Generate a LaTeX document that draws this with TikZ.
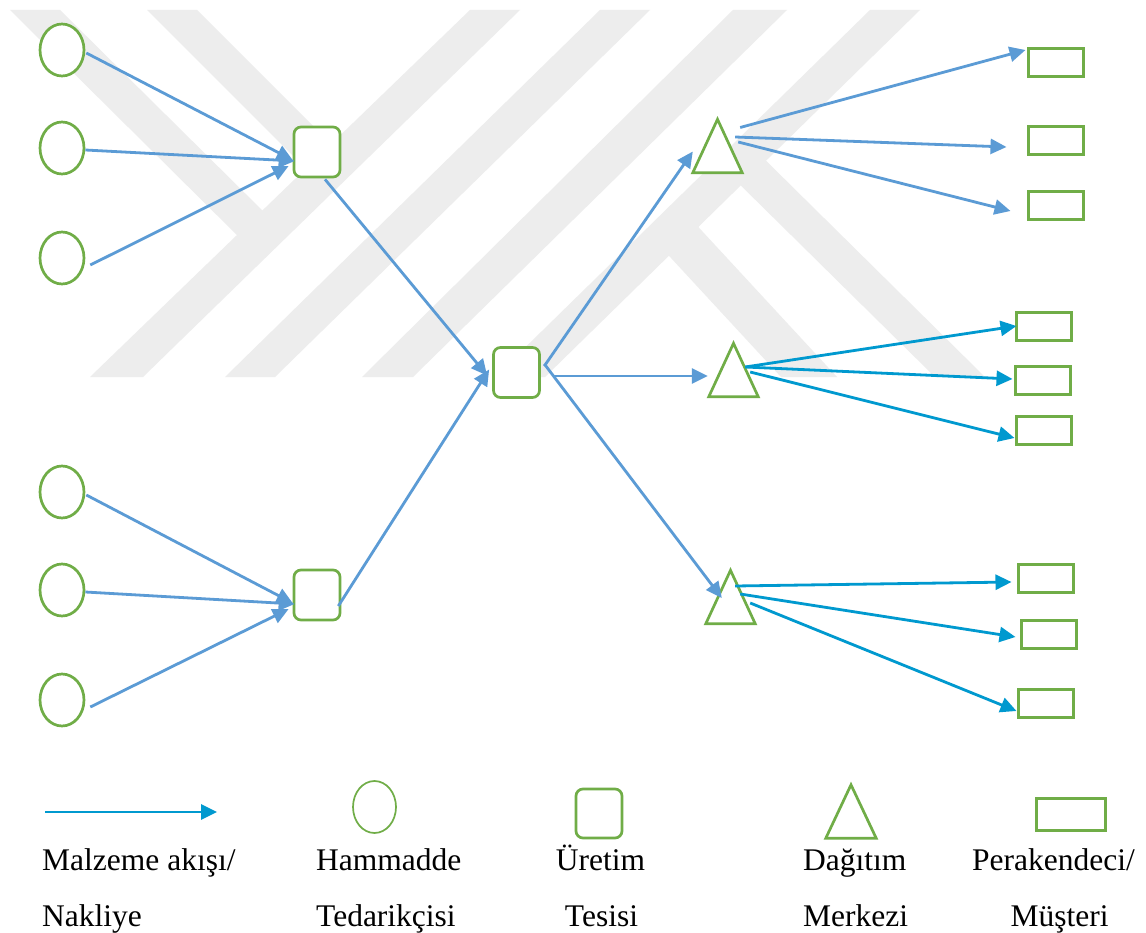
\documentclass[tikz,border=0pt]{standalone}
\usepackage{fontspec}
\setmainfont{Liberation Serif}
\usetikzlibrary{shapes.geometric,arrows.meta,calc}
\definecolor{flowblue}{HTML}{5B9BD5}
\definecolor{flowcyan}{HTML}{0099CF}
\definecolor{nodegreen}{HTML}{70AD47}
\definecolor{markgray}{HTML}{EDEDED}

\begin{document}
\begin{tikzpicture}[x=1pt,y=-1pt,
  supplier/.style={ellipse, draw=nodegreen, fill=white, line width=2.7pt,
    minimum width=44pt, minimum height=52pt, inner sep=0pt},
  plant/.style={rectangle, rounded corners=7pt, draw=nodegreen, fill=white,
    line width=2.7pt, minimum width=46pt, minimum height=50pt, inner sep=0pt},
  depotbox/.style={rectangle, minimum width=49pt, minimum height=53pt, inner sep=0pt},
  depot/.style={draw=nodegreen, fill=white, line width=2.7pt, line join=miter},
  retail/.style={rectangle, draw=nodegreen, fill=white, line width=3pt,
    minimum width=55pt, minimum height=28pt, inner sep=0pt},
  flow/.style={draw=flowblue, line width=2.8pt, -{Triangle[length=16pt,width=15pt]}},
  flowc/.style={draw=flowcyan, line width=2.8pt, -{Triangle[length=16pt,width=15pt]}},
  legendtext/.style={anchor=base west, inner sep=0pt, font=\fontsize{31.5}{36}\selectfont}
]
\fill[white] (0,0) rectangle (1146,933);
\useasboundingbox (0,0) rectangle (1146,933);

% background mark: light grey slanted bands
\fill[markgray] (470,10) -- (520,10) -- (143,377) -- (90,377) -- cycle;
\fill[markgray] (600,10) -- (650,10) -- (275,377) -- (225,377) -- cycle;
\fill[markgray] (733,10) -- (787,10) -- (413,377) -- (362,377) -- cycle;
\fill[markgray] (870,10) -- (920,10) -- (545,377) -- (495,377) -- cycle;
\fill[markgray] (10,10) -- (60,10) -- (272,220) -- (247,245) -- cycle;
\fill[markgray] (147,10) -- (197,10) -- (345,158) -- (320,183) -- cycle;
\fill[markgray] (745,140) -- (985,377) -- (935,377) -- (720,165) -- cycle;
\fill[markgray] (690,218) -- (837,377) -- (781,377) -- (659,245) -- cycle;

% raw material suppliers
\node[supplier] (c1) at (62,50) {};
\node[supplier] (c2) at (62,148) {};
\node[supplier] (c3) at (62,258) {};
\node[supplier] (c4) at (62,492) {};
\node[supplier] (c5) at (62,590) {};
\node[supplier] (c6) at (62,700) {};

% production plants
\node[plant] (s1) at (317,152) {};
\node[plant] (s2) at (317,595) {};
\node[plant] (s3) at (516.5,372.5) {};

% distribution centres
\node[depotbox] (t1) at (717.5,146) {};
\node[depotbox] (t2) at (733.5,370) {};
\node[depotbox] (t3) at (730.5,597) {};
\foreach \t in {t1,t2,t3}
  \draw[depot] (\t.north) -- (\t.south east) -- (\t.south west) -- cycle;

% retailers / customers
\node[retail] (r1) at (1055.5,63) {};
\node[retail] (r2) at (1055.5,141) {};
\node[retail] (r3) at (1055.5,205.5) {};
\node[retail] (r4) at (1044,327) {};
\node[retail] (r5) at (1042.5,380) {};
\node[retail] (r6) at (1044,430.5) {};
\node[retail] (r7) at (1045.5,578) {};
\node[retail] (r8) at (1048.5,634) {};
\node[retail] (r9) at (1045.5,703) {};

% suppliers -> plants
\draw[flow] ($(c1.east)+(1,3)$) -- ($(s1.west)+(0,8)$);
\draw[flow] ($(c2.east)+(0,2)$) -- ($(s1.west)+(2,9)$);
\draw[flow] ($(c3.east)+(5,7)$) -- ($(s1.west)+(-4,14)$);
\draw[flow] ($(c4.east)+(1,3)$) -- ($(s2.west)+(0,8)$);
\draw[flow] ($(c5.east)+(0,2)$) -- ($(s2.west)+(2,9)$);
\draw[flow] ($(c6.east)+(5,7)$) -- ($(s2.west)+(-4,14)$);

% plants -> central plant
\draw[flow] ($(s1.south)+(8,1)$) -- ($(s3.west)+(-5,3)$);
\draw[flow] ($(s2.east)+(-3,11)$) -- ($(s3.west)+(-3,-3)$);

% central plant -> distribution centres
\draw[flow] ($(s3.east)+(3.5,-6.5)$) -- ($(t1.west)+(0,5.5)$);
\draw[flow] ($(s3.east)+(12.5,3.5)$) -- ($(t2.west)+(-1,6)$);
\draw[flow] ($(s3.east)+(3.5,-8.5)$) -- ($(t3.west)+(16,1)$);

% distribution centres -> retailers
\draw[flow] ($(t1.east)+(-2,-18.5)$) -- ($(r1.west)+(-1,-13)$);
\draw[flow] ($(t1.east)+(-7,-9)$) -- ($(r2.west)+(-20,6)$);
\draw[flow] ($(t1.east)+(-4,-4)$) -- ($(r3.west)+(-16,5.5)$);
\draw[flowc] ($(t2.east)+(-13,-3)$) -- ($(r4.west)+(1.5,-1)$);
\draw[flowc] ($(t2.east)+(-13,-3)$) -- ($(r5.west)+(-1,-1)$);
\draw[flowc] ($(t2.east)+(-8,2)$) -- ($(r6.west)+(-0.5,7.5)$);
\draw[flowc] ($(t3.east)+(-20,-11)$) -- ($(r7.west)+(-5,4)$);
\draw[flowc] ($(t3.east)+(-15,-3)$) -- ($(r8.west)+(-4,3)$);
\draw[flowc] ($(t3.east)+(-5,6)$) -- ($(r9.west)+(0,8)$);

% legend
\coordinate (lgA) at (45,812);
\coordinate (lgB) at (217,812);
\draw[flowc] (lgA) -- (lgB);
\node[supplier, line width=1.7pt, minimum width=43pt, minimum height=52pt] (lgsup) at (374.5,807) {};
\node[plant, minimum width=46pt, minimum height=49pt] (lgplant) at (599,813.5) {};
\node[depotbox, minimum width=50pt, minimum height=53pt] (lgdepot) at (851,811.5) {};
\draw[depot] (lgdepot.north) -- (lgdepot.south east) -- (lgdepot.south west) -- cycle;
\node[retail, minimum width=69pt, minimum height=32pt] (lgretail) at (1070.5,814) {};

\node[legendtext] (l1a) at (42,870) {Malzeme akışı/};
\node[legendtext] (l1b) at (42,926) {Nakliye};
\node[legendtext] (l2a) at (316,870) {Hammadde};
\node[legendtext] (l2b) at (316,926) {Tedarikçisi};
\node[legendtext, anchor=base] (l3a) at (600.5,870) {Üretim};
\node[legendtext, anchor=base] (l3b) at (601.5,926) {Tesisi};
\node[legendtext] (l4a) at (803,870) {Dağıtım};
\node[legendtext] (l4b) at (803,926) {Merkezi};
\node[legendtext] (l5a) at (972,870) {Perakendeci/};
\node[legendtext, anchor=base] (l5b) at (1059.5,926) {Müşteri};
\end{tikzpicture}
\end{document}
